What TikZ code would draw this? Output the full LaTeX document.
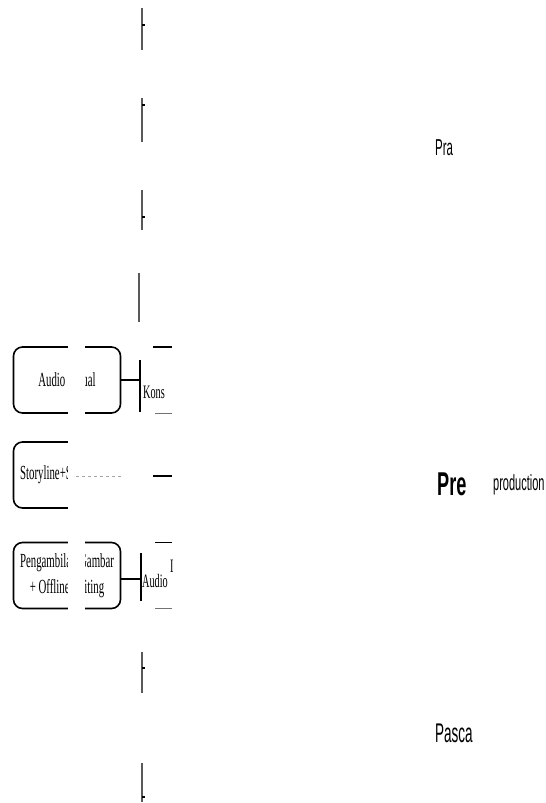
\documentclass[tikz,border=0pt]{standalone}
\usepackage{fontspec}
\usetikzlibrary{positioning}
\newfontfamily\boxfont[FakeStretch=0.54]{Liberation Serif}
\newfontfamily\stagefont[FakeStretch=0.5]{Liberation Sans}
\newfontfamily\stagebold[FakeStretch=0.55]{Liberation Sans Bold}

\begin{document}
\begin{tikzpicture}[x=1pt, y=-1pt,
    phase/.style={draw, rounded corners=9pt, line width=1.6pt, minimum width=107pt, minimum height=66pt, inner sep=1pt, align=center, font=\boxfont\fontsize{20}{26}\selectfont},
    link/.style={line width=2.6pt},
    bracketbar/.style={line width=1.4pt},
    trunk/.style={line width=2pt, black!65},
    cut/.style={anchor=west, inner sep=0pt, font=\boxfont\fontsize{19}{19}\selectfont},
    stage/.style={anchor=west, inner sep=0pt, font=\stagefont\fontsize{23}{23}\selectfont},
    mask/.style={fill=white, draw=none}
]
\useasboundingbox (0,0) rectangle (546,803);

% production boxes
\node[phase] (av) at (67,380) {Audio Visual};
\node[phase] (sb) at (67,475) {Storyline+Storyboard};
\node[phase] (pg) at (67,575.5) {Pengambilan Gambar\\+ Offline Editing};

\coordinate (avj) at (140,380);
\coordinate (pgj) at (141,579);
\draw[link] (av) -- (avj);
\draw[link] (pg.east |- pgj) -- (pgj);
\draw[bracketbar] (140,360) -- (140,412);
\draw[bracketbar] (141,553) -- (141,601);

% right side remains
\node[cut] (kons) at (143,392) {Kons};
\node[cut] (audio) at (142,581) {Audio};
\node[cut] (pgtop) at (170,566) {I};
\draw[line width=2.4pt] (153,347) -- (172,347);
\draw[line width=0.6pt, black!55] (155,413) -- (172,413);
\draw[link] (153,476) -- (172,476);
\draw[line width=1pt] (155,542) -- (172,542);
\draw[line width=0.6pt, black!55] (155,608) -- (172,608);

% erased strips
\path[mask] (67.5,338) rectangle (85,422);
\path[mask] (67.5,534) rectangle (85,617);
\path[mask] (67.5,434) rectangle (152,517);
\draw[black!35, dashed, line width=0.5pt] (76,476) -- (122,476);

% pre / post bars
\foreach \top/\bot/\tick in {8/50/25, 98/142/105, 190/230/217, 652/693/668, 763/802/797} {
  \draw[trunk] (142,\top) -- (142,\bot);
  \draw[line width=1.2pt] (142,\tick) -- (145,\tick);
}
\draw[trunk] (139,273) -- (139,322);

% stage labels
\node[stage] (pra) at (435,148) {Pra};
\node[stage, font=\stagebold\fontsize{33}{33}\selectfont] (pre) at (437,484) {Pre};
\node[stage, font=\stagefont\fontsize{22}{22}\selectfont] (prod) at (493,485) {production};
\node[stage, font=\stagefont\fontsize{27}{27}\selectfont] (pasca) at (435,733) {Pasca};
\end{tikzpicture}
\end{document}
